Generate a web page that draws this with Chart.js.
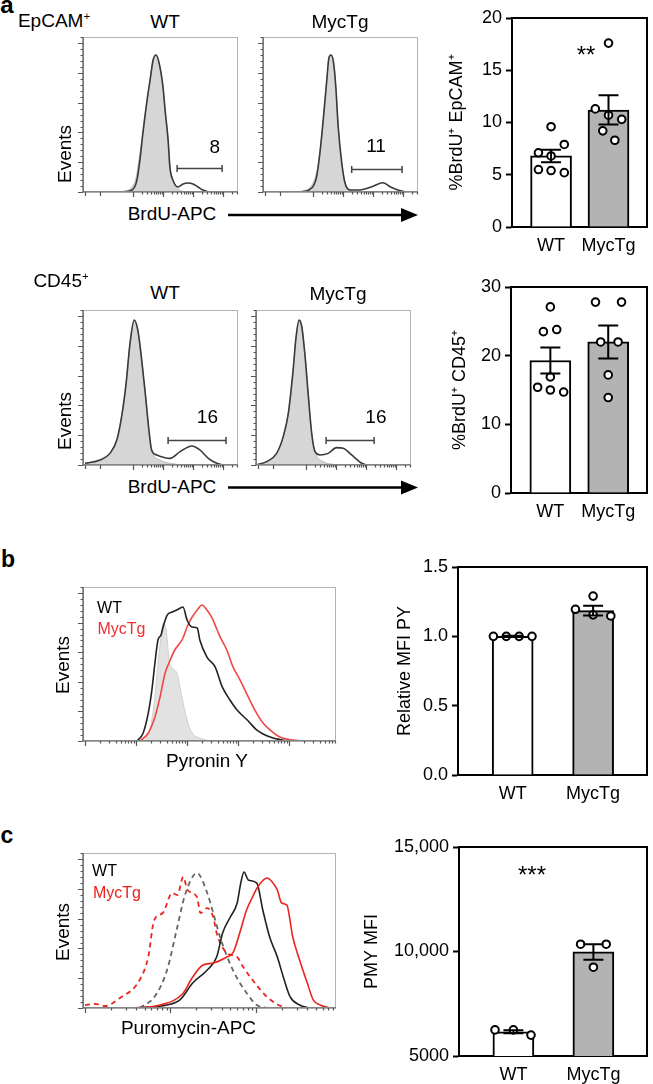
<!DOCTYPE html>
<html>
<head>
<meta charset="utf-8">
<script src="https://cdn.jsdelivr.net/npm/chart.js@4.4.1/dist/chart.umd.min.js"></script>
<style>
  body { margin: 0; background: #fff; width: 653px; height: 1084px; position: relative; overflow: hidden;
         font-family: "Liberation Sans", Arial, Helvetica, sans-serif; color: #000; }
  canvas { position: absolute; }
  .lbl { position: absolute; line-height: 1; white-space: nowrap; }
  .lbl sup { font-size: 0.6em; vertical-align: 0.6em; line-height: 0; }
  svg { position: absolute; left: 0; top: 0; }
</style>
</head>
<body>
<svg width="653" height="1084">
  <line x1="228" y1="215" x2="404" y2="215" stroke="#000" stroke-width="2.5"/>
  <polygon points="401,208 418,215 401,222" fill="#000"/>
  <line x1="228" y1="487.5" x2="404" y2="487.5" stroke="#000" stroke-width="2.5"/>
  <polygon points="401,480.5 418,487.5 401,494.5" fill="#000"/>
</svg>
<script>
// -----------------------------
// DATA
// -----------------------------
const groups = ["WT", "MycTg"];

// histograms: x = log decades of signal, y = % of panel height
// a, EpCAM+
const epWtX = [-0.4, -0.03, 0.13, 0.23, 0.33, 0.47, 0.57, 0.67, 0.77, 0.87, 1.0, 1.07, 1.17, 1.23, 1.33, 1.5, 1.67, 1.83, 2.0, 2.17, 2.33, 2.5];
const epWtY = [0, 1.3, 7.7, 20.6, 38.1, 59.4, 72.3, 85.2, 88.4, 83.2, 67.7, 52.9, 33.5, 16.1, 7.7, 3.2, 5.2, 5.8, 5.2, 3.2, 1.3, 0];
const epWtCtrlX = [-0.4, -0.07, 0.1, 0.2, 0.33, 0.47, 0.57, 0.67, 0.77, 0.87, 1.0, 1.07, 1.17, 1.23, 1.33, 1.5, 1.75];
const epWtCtrlY = [0, 2.5, 9, 21, 38, 59, 72, 85, 88.4, 83, 67.7, 53, 33.5, 17, 8, 2, 0];
const epMycX = [-0.43, -0.04, 0.12, 0.23, 0.34, 0.46, 0.53, 0.6, 0.68, 0.76, 0.84, 0.96, 1.07, 1.23, 1.57, 1.96, 2.33, 2.57, 2.83, 3.07];
const epMycY = [0, 2.6, 9.9, 25.2, 46.5, 72.3, 86.5, 88.4, 84.1, 67.9, 42.1, 18.5, 5.6, 1.3, 1.3, 3.4, 6.0, 3.4, 1.3, 0];
const epMycCtrlX = [-0.5, -0.1, 0.1, 0.23, 0.34, 0.46, 0.53, 0.6, 0.68, 0.76, 0.84, 0.96, 1.07, 1.25, 1.5];
const epMycCtrlY = [0, 3, 11, 25.2, 46.5, 72.3, 86.5, 88.4, 84.1, 67.9, 42.1, 18.5, 6, 1.5, 0];

// a, CD45+
const cdWtX = [-1.6, -1.1, -0.77, -0.54, -0.38, -0.23, -0.1, 0.04, 0.16, 0.29, 0.42, 0.53, 0.62, 0.79, 1.23, 1.57, 1.96, 2.23, 2.51, 2.79, 3.01];
const cdWtY = [1.1, 3.2, 7.5, 16.1, 31.2, 52.7, 78.5, 93.5, 87.1, 67.7, 44.1, 22.6, 9.7, 6.5, 4.3, 8.6, 12.3, 9.7, 4.3, 1.1, 0];
const cdWtCtrlX = [-1.6, -1.1, -0.77, -0.54, -0.38, -0.23, -0.1, 0.04, 0.16, 0.29, 0.42, 0.53, 0.62, 0.9, 1.4, 1.9];
const cdWtCtrlY = [1.1, 3.2, 7.5, 16.1, 31.2, 52.7, 78.5, 93.5, 87.1, 67.7, 44.1, 22.6, 9.7, 3.2, 0.6, 0];
const cdMycX = [-1.67, -1.31, -0.98, -0.76, -0.59, -0.44, -0.33, -0.23, -0.14, -0.03, 0.08, 0.19, 0.3, 0.47, 0.74, 1.02, 1.24, 1.52, 1.86, 2.02];
const cdMycY = [0, 2.2, 7.5, 18.3, 33.3, 59.1, 82.8, 93.5, 89.2, 69.9, 44.1, 20.4, 8.6, 6.5, 7.5, 11.2, 10.8, 6.5, 1.1, 0];
const cdMycCtrlX = [-1.67, -1.31, -0.98, -0.76, -0.59, -0.44, -0.33, -0.23, -0.14, -0.03, 0.08, 0.19, 0.3, 0.58, 1.1];
const cdMycCtrlY = [0, 2.2, 7.5, 18.3, 33.3, 59.1, 82.8, 93.5, 89.2, 69.9, 44.1, 20.4, 8.6, 2.2, 0];

// gates (BrdU+ %)
const gateValues = [8, 11, 16, 16];
const gateFrom = [1.47, 1.29, 1.17, 0.67];
const gateTo = [2.97, 2.97, 3.1, 2.27];
const gateLevel = [15.5, 14.8, 16.1, 16.1];

// b, Pyronin Y
const pyCtrlX = [1.18, 1.27, 1.37, 1.43, 1.49, 1.53, 1.59, 1.65, 1.71, 1.8, 1.9, 2.0, 2.1, 2.25, 2.45];
const pyCtrlY = [0, 7.1, 28.6, 50.6, 67.5, 76.6, 72.1, 52.6, 47.4, 44.2, 28.6, 13.6, 5.2, 1.9, 0];
const pyWtX = [1.02, 1.14, 1.24, 1.31, 1.37, 1.43, 1.49, 1.53, 1.61, 1.71, 1.8, 1.92, 2.0, 2.1, 2.2, 2.25, 2.39, 2.55, 2.69, 2.84, 2.98, 3.18, 3.37, 3.63, 3.96];
const pyWtY = [0, 5.2, 18.2, 33.1, 50.6, 65.6, 68.8, 74, 81.8, 83.8, 85.1, 87, 78.6, 74, 73.4, 65.6, 54.5, 48.1, 35.1, 26.6, 20.1, 13.6, 7.1, 2.6, 0];
const pyMycX = [1.08, 1.24, 1.37, 1.47, 1.57, 1.67, 1.76, 1.86, 1.92, 2.0, 2.1, 2.2, 2.29, 2.39, 2.49, 2.59, 2.65, 2.78, 2.9, 3.04, 3.2, 3.33, 3.49, 3.63, 3.82, 4.08, 4.27];
const pyMycY = [0, 5.2, 15.6, 28.6, 44.2, 52.6, 59.1, 63.6, 66.9, 74, 80.5, 85.1, 88.3, 85.1, 79.9, 72.1, 67.5, 59.1, 48.1, 39.6, 28.6, 20.1, 11.7, 7.1, 2.6, 0.6, 0];

// c, Puromycin-APC (dashed = controls)
const pmyWtCtrlX = [0.64, 0.82, 0.96, 1.08, 1.17, 1.31, 1.43, 1.5, 1.58, 1.73, 1.89, 2.01, 2.13];
const pmyWtCtrlY = [0, 7.7, 24.5, 52.3, 72.9, 87.1, 74.2, 61.3, 45.8, 24.5, 9.7, 1.9, 0];
const pmyMycCtrlX = [0, 0.12, 0.23, 0.41, 0.64, 0.74, 0.81, 0.91, 1.02, 1.08, 1.15, 1.2, 1.31, 1.35, 1.43, 1.5, 1.54, 1.66, 1.78, 1.85, 1.96, 2.13, 2.32, 2.4];
const pmyMycCtrlY = [1.9, 2.6, 1.3, 6.5, 18.1, 32.9, 56.8, 61.3, 74.2, 72.9, 84.5, 76.1, 71.6, 61.3, 64.5, 58.7, 48.4, 35.5, 32.9, 26.5, 18.1, 7.1, 0.6, 0];
const pmyWtX = [0.56, 0.96, 1.11, 1.26, 1.43, 1.54, 1.61, 1.7, 1.78, 1.82, 1.86, 1.91, 2.01, 2.08, 2.16, 2.25, 2.32, 2.4, 2.51, 2.63];
const pmyWtY = [0, 1.9, 5.2, 16.1, 24.5, 32.9, 48.4, 58.7, 67.7, 80, 87.7, 82.6, 80.6, 63.2, 45.8, 32.9, 20, 7.1, 1.9, 0];
const pmyMycX = [0.56, 0.88, 1.15, 1.26, 1.38, 1.5, 1.66, 1.73, 1.81, 1.89, 1.96, 2.02, 2.13, 2.19, 2.25, 2.3, 2.36, 2.43, 2.51, 2.6, 2.67, 2.75, 2.87];
const pmyMycY = [0, 1.9, 9.7, 20, 27.7, 29, 32.9, 35.5, 48.4, 63.2, 71.6, 78.1, 83.9, 81.3, 76.1, 67.7, 66.5, 45.8, 31, 16.1, 5.2, 1.9, 0];

// bar charts: mean, SEM, individual mice (+ horizontal spread of the dots)
const epMean = [6.8, 11.2];
const epSem = [0.6, 1.4];
const epWtPts = [9.6, 7.9, 7.1, 6.8, 5.5, 5.4, 5.2];
const epMycPts = [17.6, 11.3, 10.7, 10.3, 9.2, 8.3];
const epSpread = [[0, 0.23, -0.22, 0, -0.22, 0, 0.23], [0, -0.23, 0, 0.23, -0.1, 0.11]];
const epTicks = [0, 5, 10, 15, 20];

const cdMean = [19.3, 22.0];
const cdSem = [1.9, 2.4];
const cdWtPts = [27.1, 23.5, 23.8, 16.9, 15.4, 15.0, 14.7];
const cdMycPts = [27.8, 27.8, 22.0, 22.0, 17.2, 13.9];
const cdSpread = [[0, -0.12, 0.11, 0, -0.22, 0, 0.23], [-0.22, 0.23, -0.13, 0.17, 0, 0]];
const cdTicks = [0, 10, 20, 30];

const pyMean = [1.0, 1.185];
const pySem = [0.004, 0.035];
const pyWtPts = [1.0, 1.0, 1.0, 1.0];
const pyMycPts = [1.29, 1.195, 1.155, 1.147];
const pySpread = [[-0.24, -0.08, 0.08, 0.24], [0, -0.22, 0, 0.22]];
const pyTicks = [0, 0.5, 1.0, 1.5];

const pmyMean = [6160, 9980];
const pmySem = [70, 370];
const pmyWtPts = [6250, 6250, 6000];
const pmyMycPts = [10350, 10350, 9250];
const pmySpread = [[-0.23, 0, 0.22], [-0.16, 0.16, 0]];
const pmyTicks = [5000, 10000, 15000];
const pmyTickLabels = ["5000", "10,000", "15,000"];

// -----------------------------
// SETUP
// -----------------------------
const FONT = '"Liberation Sans", Arial, Helvetica, sans-serif';
Chart.defaults.font.family = FONT;
Chart.defaults.font.size = 18;
Chart.defaults.color = "#000";
Chart.defaults.animation = false;
Chart.defaults.responsive = false;
Chart.defaults.plugins.legend.display = false;
Chart.defaults.plugins.tooltip.enabled = false;

function addCanvas(left, top, w, h) {
    const c = document.createElement("canvas");
    c.width = w;
    c.height = h;
    c.style.left = left + "px";
    c.style.top = top + "px";
    document.body.appendChild(c);
    return c;
}

function label(html, x, y, o = {}) {
    const d = document.createElement("div");
    d.className = "lbl";
    d.innerHTML = html;
    d.style.left = x + "px";
    d.style.top = y + "px";
    d.style.fontSize = (o.size || 19) + "px";
    if (o.bold) d.style.fontWeight = "bold";
    if (o.color) d.style.color = o.color;
    d.style.transform = "translate(-50%,-50%)" + (o.rot ? " rotate(-90deg)" : "");
    document.body.appendChild(d);
}

const xy = (xs, ys) => xs.map((x, i) => ({ x, y: ys[i] }));

// -----------------------------
// FLOW HISTOGRAM AXES + GATE
// -----------------------------
const flowAxes = {
    id: "flowAxes",
    afterDatasetsDraw(chart, args, opts) {
        const { ctx, chartArea: a, scales: { x, y } } = chart;
        ctx.save();
        ctx.strokeStyle = "#b4b4b4";
        ctx.lineWidth = 1;
        ctx.strokeRect(a.left + 0.5, a.top + 0.5, a.width - 1, a.height - 1);

        ctx.strokeStyle = "#555";
        ctx.lineWidth = 1.2;
        ctx.beginPath();
        ctx.moveTo(a.left, a.top);
        ctx.lineTo(a.left, a.bottom);
        ctx.lineTo(a.right, a.bottom);
        const step = opts.yStep / 5;
        for (let k = 0; k * step <= y.max; k++) {
            const py = Math.round(y.getPixelForValue(k * step)) + 0.5;
            const len = k % 5 === 0 ? 5 : 2.5;
            ctx.moveTo(a.left - len, py);
            ctx.lineTo(a.left, py);
        }
        const tick = (v, len) => {
            if (v < x.min || v > x.max) return;
            const px = Math.round(x.getPixelForValue(v)) + 0.5;
            ctx.moveTo(px, a.bottom);
            ctx.lineTo(px, a.bottom + len);
        };
        (opts.extra || []).forEach(v => tick(v, 4));
        opts.decades.forEach(d => {
            tick(d, 5);
            for (let m = 2; m <= 9; m++) tick(d + Math.log10(m), 2.5);
        });
        ctx.stroke();

        const g = opts.gate;
        if (g) {
            const x0 = x.getPixelForValue(g.from), x1 = x.getPixelForValue(g.to);
            const gy = Math.round(y.getPixelForValue(g.level)) + 0.5;
            ctx.strokeStyle = "#444";
            ctx.lineWidth = 1.5;
            ctx.beginPath();
            ctx.moveTo(x0, gy); ctx.lineTo(x1, gy);
            ctx.moveTo(x0, gy - 3.5); ctx.lineTo(x0, gy + 3.5);
            ctx.moveTo(x1, gy - 3.5); ctx.lineTo(x1, gy + 3.5);
            ctx.stroke();
            ctx.fillStyle = "#000";
            ctx.font = "19px " + FONT;
            ctx.textAlign = "center";
            ctx.textBaseline = "middle";
            ctx.fillText(String(g.text), x.getPixelForValue(g.tx), y.getPixelForValue(g.ty));
        }
        ctx.restore();
    }
};

function histogram(box, xMin, xMax, series, axisOpts) {
    const pl = 10, pt = 3, pr = 3, pb = 9;
    const canvas = addCanvas(box.l - pl, box.t - pt, box.w + pl + pr, box.h + pt + pb);
    return new Chart(canvas, {
        type: "line",
        data: {
            datasets: series.map(s => ({
                data: xy(s.x, s.y),
                borderColor: s.line,
                backgroundColor: s.fill || "transparent",
                fill: s.fill ? "origin" : false,
                borderWidth: s.width || 1.6,
                borderDash: s.dash || [],
                pointRadius: 0,
                cubicInterpolationMode: "monotone",
                order: s.order || 0
            }))
        },
        options: {
            layout: { padding: { left: pl, top: pt, right: pr, bottom: pb } },
            scales: {
                x: { type: "linear", display: false, min: xMin, max: xMax },
                y: { display: false, min: 0, max: 100 }
            },
            plugins: { flowAxes: Object.assign({ yStep: 19.2 }, axisOpts) }
        },
        plugins: [flowAxes]
    });
}

// -----------------------------
// BAR + DOTS + SEM
// -----------------------------
const frameErr = {
    id: "frameErr",
    afterDatasetsDraw(chart, args, opts) {
        const { ctx, chartArea: a, scales: { x, y } } = chart;
        ctx.save();
        ctx.strokeStyle = "#000";
        ctx.lineWidth = 2;
        ctx.beginPath();
        opts.means.forEach((m, i) => {
            const cx = x.getPixelForValue(i);
            const hi = y.getPixelForValue(m + opts.sems[i]);
            const lo = y.getPixelForValue(m - opts.sems[i]);
            ctx.moveTo(cx, hi); ctx.lineTo(cx, lo);
            ctx.moveTo(cx - 10, hi); ctx.lineTo(cx + 10, hi);
            ctx.moveTo(cx - 10, lo); ctx.lineTo(cx + 10, lo);
        });
        ctx.moveTo(a.left, a.top);
        ctx.lineTo(a.right, a.top);
        ctx.lineTo(a.right, a.bottom);
        ctx.stroke();
        ctx.restore();
    }
};

function barPanel(plot, titleX, title, means, sems, pts, spread, ticks, tickLabels, yMin, yMax) {
    const left = 340, padTop = 16, axisH = 34;
    const canvas = addCanvas(left, plot.t - padTop, 653 - left, plot.h + padTop + axisH);
    const dots = [];
    pts.forEach((vals, g) => vals.forEach((v, i) => dots.push({ x: g + spread[g][i], y: v })));
    return new Chart(canvas, {
        type: "bar",
        data: {
            datasets: [
                {
                    type: "line", data: dots, showLine: false, order: 0,
                    pointRadius: 3.8, pointBorderWidth: 2,
                    pointBackgroundColor: "#fff", pointBorderColor: "#000"
                },
                {
                    data: means.map((m, i) => ({ x: i, y: m })), order: 1,
                    backgroundColor: ["#ffffff", "#b3b3b3"], borderColor: "#000",
                    borderWidth: 2, barThickness: 41
                }
            ]
        },
        options: {
            layout: { padding: { top: padTop, right: 1, left: 0, bottom: 0 } },
            scales: {
                x: {
                    type: "linear", min: -0.68, max: 1.67, offset: false,
                    grid: { display: false, drawTicks: false },
                    border: { color: "#000", width: 2 },
                    afterBuildTicks: s => { s.ticks = groups.map((_, i) => ({ value: i })); },
                    ticks: { padding: 8, autoSkip: false, maxRotation: 0, callback: v => groups[v] },
                    afterFit: s => { s.height = axisH; }
                },
                y: {
                    min: yMin, max: yMax,
                    afterBuildTicks: s => { s.ticks = ticks.map(v => ({ value: v })); },
                    ticks: { padding: 4, callback: (v, i) => tickLabels[i] },
                    grid: { drawOnChartArea: false, tickLength: 6, tickWidth: 2, tickColor: "#000" },
                    border: { color: "#000", width: 2 },
                    title: { display: true, text: title, font: { size: 18 }, padding: { top: titleX - left - 10.8, bottom: 0 } },
                    afterFit: s => { s.width = plot.l - left; }
                }
            },
            plugins: { frameErr: { means, sems } }
        },
        plugins: [frameErr]
    });
}

// -----------------------------
// PANEL a
// -----------------------------
const GRAY = "#d6d6d6", GRAYLINE = "#b9b9b9", DARK = "#3a3a3a";
const aTicks = { decades: [0, 1, 2, 3], extra: [-1.6, -1.1] };

histogram({ l: 83, t: 37, w: 155, h: 155 }, -1.667, 3.5, [
    { x: epWtCtrlX, y: epWtCtrlY, line: GRAYLINE, fill: GRAY, width: 1, order: 2 },
    { x: epWtX, y: epWtY, line: DARK, order: 1 }
], Object.assign({ gate: { from: gateFrom[0], to: gateTo[0], level: gateLevel[0], text: gateValues[0], tx: 2.73, ty: 28.7 } }, aTicks));

histogram({ l: 263, t: 37, w: 155, h: 155 }, -1.667, 3.5, [
    { x: epMycCtrlX, y: epMycCtrlY, line: GRAYLINE, fill: GRAY, width: 1, order: 2 },
    { x: epMycX, y: epMycY, line: DARK, order: 1 }
], Object.assign({ gate: { from: gateFrom[1], to: gateTo[1], level: gateLevel[1], text: gateValues[1], tx: 2.1, ty: 29 } }, aTicks));

histogram({ l: 83, t: 310, w: 155, h: 155 }, -1.667, 3.5, [
    { x: cdWtCtrlX, y: cdWtCtrlY, line: GRAYLINE, fill: GRAY, width: 1, order: 2 },
    { x: cdWtX, y: cdWtY, line: DARK, order: 1 }
], Object.assign({ gate: { from: gateFrom[2], to: gateTo[2], level: gateLevel[2], text: gateValues[2], tx: 2.48, ty: 30.3 } }, aTicks));

histogram({ l: 256, t: 310, w: 155, h: 155 }, -1.667, 3.5, [
    { x: cdMycCtrlX, y: cdMycCtrlY, line: GRAYLINE, fill: GRAY, width: 1, order: 2 },
    { x: cdMycX, y: cdMycY, line: DARK, order: 1 }
], Object.assign({ gate: { from: gateFrom[3], to: gateTo[3], level: gateLevel[3], text: gateValues[3], tx: 2.33, ty: 30.3 } }, aTicks));

barPanel({ l: 512, t: 18, h: 209 }, 457, "%BrdU\u207A EpCAM\u207A",
    epMean, epSem, [epWtPts, epMycPts], epSpread, epTicks, epTicks.map(String), 0, 20);
barPanel({ l: 511, t: 287, h: 206 }, 460, "%BrdU\u207A CD45\u207A",
    cdMean, cdSem, [cdWtPts, cdMycPts], cdSpread, cdTicks, cdTicks.map(String), 0, 30);

// -----------------------------
// PANEL b
// -----------------------------
histogram({ l: 83, t: 587, w: 253, h: 154 }, -0.04, 4.92, [
    { x: pyCtrlX, y: pyCtrlY, line: "#d0d0d0", fill: "#e2e2e2", width: 1, order: 3 },
    { x: pyMycX, y: pyMycY, line: "#f04848", order: 2 },
    { x: pyWtX, y: pyWtY, line: "#222", order: 1 }
], { decades: [0, 1, 2, 3, 4] });

barPanel({ l: 458, t: 567, h: 208 }, 405, "Relative MFI PY",
    pyMean, pySem, [pyWtPts, pyMycPts], pySpread, pyTicks, pyTicks.map(v => v.toFixed(1)), 0, 1.5);

// -----------------------------
// PANEL c
// -----------------------------
histogram({ l: 83, t: 853, w: 253, h: 155 }, -0.023, 2.936, [
    { x: pmyWtCtrlX, y: pmyWtCtrlY, line: "#666", dash: [5, 4], width: 1.8, order: 4 },
    { x: pmyMycCtrlX, y: pmyMycCtrlY, line: "#e8261e", dash: [5, 4], width: 1.8, order: 3 },
    { x: pmyWtX, y: pmyWtY, line: "#222", order: 2 },
    { x: pmyMycX, y: pmyMycY, line: "#e8261e", order: 1 }
], { decades: [0, 1, 2] });

barPanel({ l: 459, t: 847, h: 209 }, 372, "PMY MFI",
    pmyMean, pmySem, [pmyWtPts, pmyMycPts], pmySpread, pmyTicks, pmyTickLabels, 5000, 15000);

// -----------------------------
// TEXT
// -----------------------------
label("a", 7, 5, { bold: true, size: 24 });
label("EpCAM<sup>+</sup>", 54, 20);
label("WT", 165, 21);
label("MycTg", 340, 21);
label("Events", 63.5, 153.5, { rot: true });
label("BrdU-APC", 172, 213);

label("CD45<sup>+</sup>", 61, 279.5);
label("WT", 165, 292);
label("MycTg", 338, 293);
label("Events", 63.5, 421, { rot: true });
label("BrdU-APC", 172, 486);

label("**", 586, 55, { size: 24 });

label("b", 8, 559, { bold: true, size: 23 });
label("WT", 109.5, 607.5, { size: 16 });
label("MycTg", 121.5, 629, { size: 16, color: "#ee3030" });
label("Events", 62, 665, { rot: true });
label("Pyronin Y", 207, 760);

label("c", 7, 835, { bold: true, size: 23 });
label("WT", 104.5, 871, { size: 16 });
label("MycTg", 117, 892.5, { size: 16, color: "#e8221c" });
label("Events", 62, 932, { rot: true });
label("Puromycin-APC", 188.5, 1027);
label("***", 532, 874.5, { size: 24 });
</script>
</body>
</html>
